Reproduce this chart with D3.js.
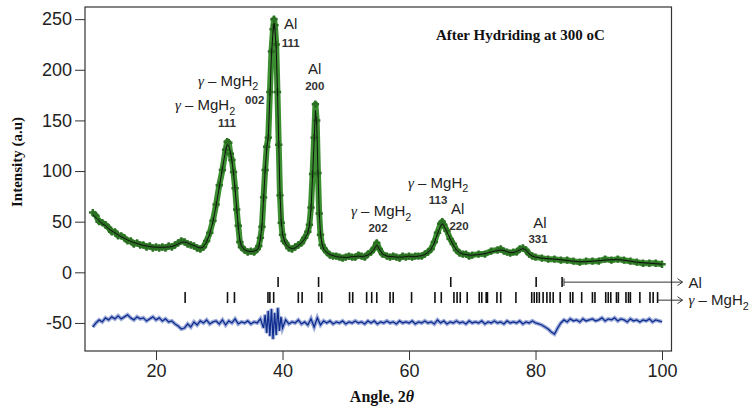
<!DOCTYPE html>
<html>
<head>
<meta charset="utf-8">
<script src="https://cdn.jsdelivr.net/npm/d3@7"></script>
<style>
  body { margin: 0; background: #fff; }
  svg { display: block; }
</style>
</head>
<body>
<div id="canvas"></div>
<script>
"use strict"

let angles = [10, 10.5, 11, 11.5, 12, 12.5, 13, 13.5, 14, 14.5, 15, 15.5, 16, 16.5, 17, 17.5, 18, 18.5, 19, 19.5,
    20, 20.5, 21, 21.5, 22, 22.5, 23, 23.5, 24, 24.5, 25, 25.5, 26, 26.5, 27, 27.5, 28, 28.5, 29, 29.5,
    30, 30.5, 31, 31.25, 31.5, 31.75, 32, 32.25, 32.5, 32.75, 33, 33.25, 33.5, 34, 34.5, 35, 35.5, 36, 36.25, 36.5,
    36.75, 37, 37.25, 37.5, 37.75, 38, 38.25, 38.5, 38.65, 38.8, 39, 39.2, 39.4, 39.6, 39.8, 40, 40.25, 40.5, 41, 41.5,
    42, 42.5, 43, 43.5, 44, 44.25, 44.5, 44.75, 45, 45.2, 45.4, 45.6, 45.8, 46, 46.25, 46.5, 47, 47.5, 48, 48.5,
    49, 49.5, 50, 50.5, 51, 51.5, 52, 52.5, 53, 53.5, 54, 54.5, 54.9, 55.3, 55.8, 56.5, 57, 57.5, 58, 58.5,
    59, 59.5, 60, 60.5, 61, 61.5, 62, 62.5, 63, 63.5, 64, 64.5, 65, 65.25, 65.5, 66, 66.5, 67, 67.5, 68,
    68.5, 69, 69.5, 70, 71, 72, 73, 74, 74.5, 75, 75.5, 76, 76.5, 77, 77.5, 78, 78.5, 79, 79.5, 80,
    81, 82, 83, 84, 85, 86, 87, 88, 89, 90, 91, 92, 93, 94, 95, 96, 97, 98, 99, 100];

let calculated = [57, 54, 51, 48, 46, 43, 41, 39, 37, 35, 33.5, 32, 30.5, 29.5, 28.5, 27.5, 26.5, 26, 25.5, 25,
    24.8, 24.7, 24.7, 24.8, 25, 25.5, 26.5, 28, 29.5, 30, 29, 27.5, 26.5, 25, 24, 25, 30, 38, 50, 66,
    84, 103, 120, 126, 125, 119, 110, 98, 82, 64, 45, 32, 26, 22, 21, 20.5, 21, 22, 25, 33,
    46, 72, 100, 122, 134, 172, 215, 238, 246, 240, 222, 180, 128, 78, 50, 38, 32, 28, 24.5, 23.5,
    24, 26.5, 29, 33, 39, 46, 62, 95, 130, 160, 148, 100, 60, 38, 28, 23, 19.5, 17.5, 16.5, 15.5,
    15, 15, 14.5, 15, 15.5, 15.5, 16, 15.5, 16, 17, 19, 23, 27, 23, 18, 16, 15.5, 15.5, 15, 15,
    15, 15.5, 16, 15.5, 15.5, 16, 16.5, 17.5, 19.5, 23, 29, 38, 46, 48, 46, 40, 33, 27, 22, 19.5,
    18, 17.5, 17, 17, 17.5, 18.5, 20, 21.5, 22, 21.5, 20.5, 19.5, 19.5, 20.5, 22, 23.5, 22, 18, 16, 15,
    14, 13.5, 13, 12.5, 11.5, 11, 10.5, 10.5, 11, 11.5, 12, 12.5, 12.5, 12, 11, 10, 9.5, 9, 8.5, 8];

let observed = [59, 56, 50, 49, 47, 44, 40, 40, 36, 36, 34, 31, 31, 28, 29, 27, 27, 25, 26, 24,
    25, 24, 25, 24, 26, 25, 27, 29, 31, 30, 28, 27, 26, 24, 23, 25, 31, 39, 51, 67,
    86, 101, 121, 129, 128, 117, 111, 99, 83, 62, 46, 30, 25, 22, 20, 21, 20, 23, 26, 34,
    45, 74, 101, 124, 133, 178, 218, 240, 250, 244, 225, 178, 126, 76, 49, 37, 31, 29, 24, 23,
    25, 27, 29, 34, 40, 47, 64, 97, 133, 166, 150, 98, 58, 37, 27, 24, 20, 17, 16, 16,
    15, 14, 15, 16, 15, 15, 17, 16, 15, 18, 20, 24, 29, 23, 18, 16, 15, 16, 15, 14,
    16, 15, 16, 15, 16, 16, 16, 18, 20, 23, 30, 39, 48, 50, 47, 41, 33, 28, 22, 19,
    18, 18, 16, 17, 18, 18, 21, 22, 23, 21, 20, 19, 20, 20, 23, 24, 22, 18, 16, 15,
    14, 13, 13, 12, 12, 11, 10, 11, 11, 11, 13, 12, 13, 12, 11, 10, 9, 9, 9, 8];

/* difference curve (observed - calculated, shifted to -50) */
let difference = [
    [10, -54], [10.5, -50], [11, -47], [11.5, -49], [12, -45], [12.5, -47], [13, -44], [13.5, -46], [14, -43], [14.5, -46],
    [15, -44], [15.5, -42], [16, -45], [16.5, -47], [17, -44], [17.5, -46], [18, -45], [18.5, -48], [19, -46], [19.5, -44],
    [20, -47], [20.5, -45], [21, -48], [21.5, -46], [22, -49], [22.5, -48], [23, -51], [23.5, -53], [24, -56], [24.5, -55],
    [25, -51], [25.5, -54], [26, -49], [26.5, -52], [27, -48], [27.5, -50], [28, -47], [28.5, -51], [29, -49], [29.5, -48],
    [30, -51], [30.5, -47], [31, -52], [31.5, -48], [32, -50], [32.5, -46], [33, -51], [33.5, -49], [34, -50], [34.5, -48],
    [35, -51], [35.5, -49], [36, -50], [36.5, -46], [37, -55], [37.25, -42], [37.5, -60], [37.75, -38], [38, -63], [38.25, -36],
    [38.5, -66], [38.75, -40], [39, -62], [39.25, -35], [39.5, -58], [39.75, -44], [40, -55], [40.5, -47], [41, -51], [41.5, -49],
    [42, -50], [42.5, -47], [43, -51], [43.5, -49], [44, -52], [44.5, -46], [45, -54], [45.5, -45], [46, -52], [46.5, -48],
    [47, -50], [47.5, -48], [48, -51], [48.5, -49], [49, -50], [49.5, -48], [50, -51], [50.5, -49], [51, -50], [51.5, -48],
    [52, -50], [52.5, -49], [53, -51], [53.5, -48], [54, -50], [54.5, -48], [55, -51], [55.5, -49], [56, -50], [56.5, -48],
    [57, -50], [57.5, -49], [58, -51], [58.5, -48], [59, -50], [59.5, -49], [60, -50], [60.5, -48], [61, -51], [61.5, -49],
    [62, -50], [62.5, -48], [63, -50], [63.5, -49], [64, -51], [64.5, -47], [65, -50], [65.5, -48], [66, -51], [66.5, -49],
    [67, -50], [67.5, -48], [68, -50], [68.5, -49], [69, -51], [69.5, -48], [70, -50], [70.5, -49], [71, -50], [71.5, -48],
    [72, -51], [72.5, -49], [73, -50], [73.5, -48], [74, -50], [74.5, -49], [75, -51], [75.5, -48], [76, -50], [76.5, -49],
    [77, -50], [77.5, -48], [78, -51], [78.5, -49], [79, -50], [79.5, -48], [80, -50], [80.5, -51], [81, -52], [81.5, -54],
    [82, -56], [82.5, -59], [83, -61], [83.5, -55], [84, -50], [84.5, -47], [85, -49], [85.5, -46], [86, -48], [86.5, -47],
    [87, -49], [87.5, -46], [88, -48], [88.5, -47], [89, -46], [89.5, -48], [90, -47], [90.5, -45], [91, -48], [91.5, -46],
    [92, -47], [92.5, -45], [93, -48], [93.5, -46], [94, -47], [94.5, -49], [95, -46], [95.5, -48], [96, -47], [96.5, -49],
    [97, -47], [97.5, -48], [98, -46], [98.5, -49], [99, -47], [99.5, -48], [100, -49]];

/* Bragg reflection positions */
let alPeaks = [39.3, 45.7, 66.6, 80.1, 84.2];
let mgh2Peaks = [24.6, 31.3, 32.4, 37.7, 38.0, 38.6, 42.5, 43.1, 45.7, 46.2, 50.6, 51.1, 53.3, 54.1, 54.9,
    57.0, 57.5, 60.4, 64.1, 65.1, 67.1, 67.6, 68.1, 69.2, 71.1, 71.5, 72.2, 72.4, 73.9, 74.5, 76.9,
    79.4, 79.8, 80.2, 80.6, 81.2, 81.8, 82.3, 82.8, 83.9, 85.5, 85.9, 87.3, 89.0, 89.4,
    91.1, 91.5, 91.9, 92.8, 93.1, 94.3, 94.7, 95.0, 96.5, 98.1, 98.6, 99.3];

let xTicks = [20, 40, 60, 80, 100];
let yTicks = [-50, 0, 50, 100, 150, 200, 250];

/* peak labels: [angle, intensity, name, hkl, angle of hkl, intensity of hkl] */
let peakLabels = [
    [41.3, 240, "Al", "111", 41.3, 222.5],
    [45.1, 196, "Al", "200", 45.1, 180],
    [31.4, 184, "MgH2", "002", 35.6, 166],
    [27.75, 160, "MgH2", "111", 31.2, 143.5],
    [55.6, 55.5, "MgH2", "202", 55.1, 39.5],
    [64.6, 83.5, "MgH2", "113", 64.6, 67.5],
    [67.7, 57.5, "Al", "220", 67.9, 41.5],
    [80.7, 43.5, "Al", "331", 80.4, 28.5]
];

let width = 755;
let height = 409;

let drawing = d3.select("#canvas")
    .append("svg")
    .attr("width", width)
    .attr("height", height)
    .style("font-family", "'Liberation Sans', Arial, sans-serif");

let x = d3.scaleLinear().domain([8.77, 101.5]).range([85, 671.5]);
let y = d3.scaleLinear().domain([-77.7, 262]).range([351, 7]);

/* axes */
drawing.append("g")
    .attr("transform", "translate(0," + y.range()[0] + ")")
    .call(d3.axisBottom(x).tickValues(xTicks).tickSize(9).tickPadding(4).tickFormat(d => String(d)))
    .call(g => g.select(".domain").remove())
    .call(g => g.selectAll("line").attr("stroke", "#333"))
    .call(g => g.selectAll("text").attr("font-size", 18).attr("fill", "#222")
        .attr("font-family", "'Liberation Sans', Arial, sans-serif"));

drawing.append("g")
    .attr("transform", "translate(" + x.range()[0] + ",0)")
    .call(d3.axisLeft(y).tickValues(yTicks).tickSize(10).tickPadding(3).tickFormat(d => String(d)))
    .call(g => g.select(".domain").remove())
    .call(g => g.selectAll("line").attr("stroke", "#333"))
    .call(g => g.selectAll("text").attr("font-size", 18).attr("fill", "#222")
        .attr("font-family", "'Liberation Sans', Arial, sans-serif"));

/* plot frame */
let frame = drawing.append("rect")
    .attr("x", x.range()[0])
    .attr("y", y.range()[1])
    .attr("width", x.range()[1] - x.range()[0])
    .attr("height", y.range()[0] - y.range()[1])
    .attr("fill", "none")
    .attr("stroke", "#333")
    .attr("stroke-width", 1.2);

/* observed data as a green band with crosses */
let obsPoints = angles.map((a, i) => [a, observed[i]]);
let calcPoints = angles.map((a, i) => [a, calculated[i]]);
let line = d3.line().x(d => x(d[0])).y(d => y(d[1]));

drawing.append("path")
    .attr("d", line(obsPoints))
    .attr("fill", "none")
    .attr("stroke", "#3c8f30")
    .attr("stroke-width", 6)
    .attr("stroke-linejoin", "round");

drawing.append("g")
    .selectAll("path")
    .data(obsPoints)
    .join("path")
    .attr("d", d3.symbol(d3.symbolCross, 30))
    .attr("transform", d => "translate(" + x(d[0]) + "," + y(d[1]) + ")")
    .attr("fill", "#2a6f22");

/* calculated fit */
drawing.append("path")
    .attr("d", line(calcPoints))
    .attr("fill", "none")
    .attr("stroke", "#111")
    .attr("stroke-width", 1);

/* difference curve */
drawing.append("path")
    .attr("d", line(difference))
    .attr("fill", "none")
    .attr("stroke", "#4a66b8")
    .attr("stroke-width", 4)
    .attr("opacity", 0.55);

drawing.append("path")
    .attr("d", line(difference))
    .attr("fill", "none")
    .attr("stroke", "#0f2d8f")
    .attr("stroke-width", 1.3);

/* reflection tick rows */
drawing.append("g")
    .selectAll("line")
    .data(alPeaks)
    .join("line")
    .attr("x1", d => x(d))
    .attr("x2", d => x(d))
    .attr("y1", y(-4.6))
    .attr("y2", y(-14.5))
    .attr("stroke", "#111")
    .attr("stroke-width", 1.6);

drawing.append("g")
    .selectAll("line")
    .data(mgh2Peaks)
    .join("line")
    .attr("x1", d => x(d))
    .attr("x2", d => x(d))
    .attr("y1", y(-19.5))
    .attr("y2", y(-30.3))
    .attr("stroke", "#111")
    .attr("stroke-width", 1.6);

/* legend arrows out to the right of the frame */
function arrow(fromAngle, value) {
    let x0 = x(fromAngle);
    let x1 = x.range()[1] + 11;
    let yy = y(value);
    drawing.append("line")
        .attr("x1", x0).attr("y1", yy)
        .attr("x2", x1).attr("y2", yy)
        .attr("stroke", "#333")
        .attr("stroke-width", 1);
    drawing.append("polyline")
        .attr("points", (x1 - 5) + "," + (yy - 3.5) + " " + x1 + "," + yy + " " + (x1 - 5) + "," + (yy + 3.5))
        .attr("fill", "none")
        .attr("stroke", "#333")
        .attr("stroke-width", 1);
}
arrow(84.5, -9.7);
arrow(99.3, -27.5);

/* small bar where the Al arrow starts */
drawing.append("line")
    .attr("x1", x(84.5)).attr("x2", x(84.5))
    .attr("y1", y(-6)).attr("y2", y(-13.5))
    .attr("stroke", "#333")
    .attr("stroke-width", 1);

function mgh2Text(sel, size) {
    sel.append("tspan")
        .attr("font-family", "'Liberation Serif', 'Times New Roman', serif")
        .attr("font-style", "italic")
        .text("\u03B3");
    sel.append("tspan").text(" \u2013 MgH");
    sel.append("tspan")
        .attr("font-size", size * 0.72)
        .attr("dy", size * 0.3)
        .text("2");
}

drawing.append("text")
    .attr("x", x.range()[1] + 17)
    .attr("y", y(-9.7) + 5.5)
    .attr("font-size", 15)
    .attr("fill", "#222")
    .text("Al");

let legendMg = drawing.append("text")
    .attr("x", x.range()[1] + 17)
    .attr("y", y(-27.5) + 5)
    .attr("font-size", 15)
    .attr("fill", "#222");
mgh2Text(legendMg, 15);

/* peak labels */
peakLabels.forEach(p => {
    let t = drawing.append("text")
        .attr("x", x(p[0]))
        .attr("y", y(p[1]))
        .attr("text-anchor", "middle")
        .attr("font-size", 15)
        .attr("fill", "#222");
    if (p[2] == "Al") {
        t.text("Al");
    } else {
        mgh2Text(t, 15);
    }
    drawing.append("text")
        .attr("x", x(p[4]))
        .attr("y", y(p[5]))
        .attr("text-anchor", "middle")
        .attr("font-size", 11.5)
        .attr("font-weight", "bold")
        .attr("fill", "#333")
        .text(p[3]);
});

/* title inside the frame */
drawing.append("text")
    .attr("x", x(77.6))
    .attr("y", y(229))
    .attr("text-anchor", "middle")
    .attr("font-family", "'Liberation Serif', 'Times New Roman', serif")
    .attr("font-weight", "bold")
    .attr("font-size", 15)
    .attr("fill", "#111")
    .text("After Hydriding at 300 oC");

/* axis titles */
let xTitle = drawing.append("text")
    .attr("x", 382)
    .attr("y", 402)
    .attr("text-anchor", "middle")
    .attr("font-family", "'Liberation Serif', 'Times New Roman', serif")
    .attr("font-weight", "bold")
    .attr("font-size", 16)
    .attr("fill", "#111");
xTitle.append("tspan").text("Angle, 2");
xTitle.append("tspan").attr("font-style", "italic").text("\u03B8");

drawing.append("text")
    .attr("transform", "translate(22,162) rotate(-90)")
    .attr("text-anchor", "middle")
    .attr("font-family", "'Liberation Serif', 'Times New Roman', serif")
    .attr("font-weight", "bold")
    .attr("font-size", 15)
    .attr("fill", "#111")
    .text("Intensity (a.u)");
</script>
</body>
</html>
